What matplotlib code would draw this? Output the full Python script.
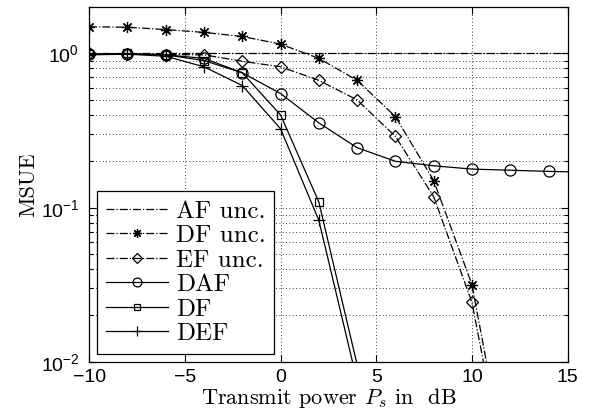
import numpy as np
import matplotlib
matplotlib.use('Agg')
import matplotlib.pyplot as plt
from matplotlib.ticker import LogLocator

# valeurs
x_unc = [-10, -8, -6, -4, -2, 0, 2, 4, 6, 8, 10, 12]
x_af = [-10, 16]
x_daf = [-10, -8, -6, -4, -2, 0, 2, 4, 6, 8, 10, 12, 14, 16]
x_df = [-10, -8, -6, -4, -2, 0, 2, 4]

af_unc = [1.0, 1.0]
df_unc = [1.49, 1.48, 1.43, 1.37, 1.29, 1.15, 0.93, 0.67, 0.39, 0.15, 0.0317, 0.0015]
ef_unc = [1.0, 0.99, 0.985, 0.98, 0.89, 0.82, 0.67, 0.50, 0.29, 0.118, 0.0243, 0.00126]
daf = [0.99, 0.99, 0.98, 0.93, 0.75, 0.55, 0.355, 0.245, 0.20, 0.187, 0.178, 0.175, 0.172, 0.170]
df = [0.99, 1.0, 0.98, 0.90, 0.75, 0.40, 0.109, 0.0096]
def_ = [0.98, 0.99, 0.96, 0.82, 0.62, 0.325, 0.083, 0.0075]

ymin, ymax = 1e-2, 2.0

plt.rcParams['font.family'] = 'cmr10'
plt.rcParams['mathtext.fontset'] = 'cm'
plt.rcParams['axes.unicode_minus'] = True

fig = plt.figure(figsize=(6.02, 4.16), dpi=100)
ax = fig.add_axes([0.148, 0.130, 0.795, 0.853])

def visibles(vals):
    return [i for i, v in enumerate(vals) if ymin <= v <= ymax]

asterisque = (8, 2, 0)
kw = dict(color='black', lw=0.9, markersize=7, markerfacecolor='none', markeredgewidth=0.9)
ax.plot(x_af, af_unc, '-.', label='AF unc.', **kw)
ax.plot(x_unc, df_unc, '-.', marker=asterisque, markevery=visibles(df_unc), label='DF unc.',
        **{**kw, 'markersize': 8})
ax.plot(x_unc, ef_unc, '-.', marker='D', markevery=visibles(ef_unc), label='EF unc.',
        **{**kw, 'markersize': 6})
ax.plot(x_daf, daf, '-', marker='o', label='DAF', **{**kw, 'markersize': 8})
ax.plot(x_df, df, '-', marker='s', markevery=visibles(df), label='DF', **{**kw, 'markersize': 6})
ax.plot(x_df, def_, '-', marker='+', markevery=visibles(def_), label='DEF', **{**kw, 'markersize': 9})

ax.set_yscale('log')
ax.set_xlim(-10, 15)
ax.set_ylim(ymin, ymax)
ax.set_xticks([-10, -5, 0, 5, 10, 15])
ax.yaxis.set_major_locator(LogLocator(base=10, numticks=10))
ax.yaxis.set_minor_locator(LogLocator(base=10, subs=np.arange(2, 10), numticks=20))

ax.grid(True, which='major', linestyle=(0, (1, 3)), color='black', lw=0.6)
ax.grid(True, which='minor', axis='y', linestyle=(0, (1, 3)), color='black', lw=0.6)
ax.tick_params(which='both', direction='in', top=True, right=True, width=0.8,
               labelfontfamily='Liberation Sans')
ax.tick_params(which='major', length=5, labelsize=14)
ax.tick_params(which='minor', length=3)
ax.tick_params(axis='x', pad=5)
ax.tick_params(axis='y', pad=7)
for s in ax.spines.values():
    s.set_linewidth(0.9)

ax.set_xlabel('Transmit power $P_s$ in  dB', fontsize=16, labelpad=0)
ax.set_ylabel('MSUE', fontsize=16, labelpad=2)

leg = ax.legend(loc='lower left', bbox_to_anchor=(0.0167, 0.0225), borderaxespad=0,
                fontsize=18, fancybox=False, framealpha=1, edgecolor='black',
                handlelength=2.5, handletextpad=0.3, labelspacing=0.08, borderpad=0.35,
                markerscale=0.8)
leg.get_frame().set_linewidth(0.9)

fig.savefig('out.png', dpi=100)
